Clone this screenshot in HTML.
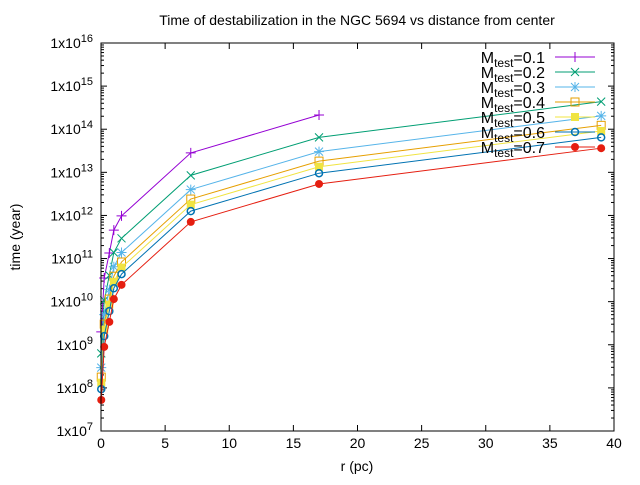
<!DOCTYPE html>
<html><head><meta charset="utf-8"><style>
body{margin:0;background:#fff;}
svg text{font-family:"Liberation Sans",sans-serif;fill:#000;}
</style></head><body>
<svg id="chart" width="640" height="480" xmlns="http://www.w3.org/2000/svg">
<text x="357" y="25" font-size="14" text-anchor="middle">Time of destabilization in the NGC 5694 vs distance from center</text>
<text transform="translate(20,237) rotate(-90)" font-size="14" text-anchor="middle">time (year)</text>
<text x="357" y="471" font-size="14" text-anchor="middle">r (pc)</text>
<g id="axes"></g><g id="series"></g><g id="legend"></g>
<rect x="101" y="43" width="513" height="388" fill="none" stroke="#000" stroke-width="1"/>
</svg>
<script>
const xTicks=[0,5,10,15,20,25,30,35,40];
const yTickExps=[7,8,9,10,11,12,13,14,15,16];
const seriesLabels=["0.1","0.2","0.3","0.4","0.5","0.6","0.7"];
const rPurple=[0.02,0.25,0.65,1.0,1.6,7,17];
const rOthers=[0.02,0.25,0.65,1.0,1.6,7,17,39];
const logT01=[9.3,10.55,11.13,11.66,11.99,13.45,14.33];
const logT02=[8.8,10.03,10.61,11.14,11.47,12.93,13.81,14.64];
const logT03=[8.47,9.7,10.28,10.81,11.14,12.6,13.48,14.31];
const logT04=[8.25,9.48,10.06,10.59,10.92,12.38,13.26,14.09];
const logT05=[8.12,9.35,9.93,10.46,10.79,12.25,13.13,13.96];
const logT06=[7.97,9.2,9.78,10.31,10.64,12.1,12.98,13.81];
const logT07=[7.72,8.95,9.53,10.06,10.39,11.85,12.73,13.56];
const NS="http://www.w3.org/2000/svg";
const X0=101,X1=614,Y0=431,Y1=43;
const xs=v=>X0+(v-0)/(40-0)*(X1-X0);
const ys=lv=>Y0-(lv-7)/(16-7)*(Y0-Y1);
function mk(tag,attrs,parent){const e=document.createElementNS(NS,tag);for(const k in attrs)e.setAttribute(k,attrs[k]);parent.appendChild(e);return e;}
const axes=document.getElementById('axes');
xTicks.forEach(t=>{
 const x=xs(t);
 const l=mk('line',{x1:x,x2:x,y1:Y0,y2:Y0-6,stroke:'#000'},axes);
 
 
 const l2=mk('line',{x1:x,x2:x,y1:Y1,y2:Y1+6,stroke:'#000'},axes);
 
 
 const tx=mk('text',{x:x,y:448,'font-size':14,'text-anchor':'middle'},axes);
 tx.textContent=t;
 
 
});
yTickExps.forEach(e=>{
 const y=ys(e);
 const l=mk('line',{x1:X0,x2:X0+6,y1:y,y2:y,stroke:'#000'},axes);
 
 
 const l2=mk('line',{x1:X1,x2:X1-6,y1:y,y2:y,stroke:'#000'},axes);
 
 
 if(e<16){for(let m=2;m<10;m++){const ym=ys(e+Math.log10(m));
  const a=mk('line',{x1:X0,x2:X0+3,y1:ym,y2:ym,stroke:'#000'},axes);
  
  
  const b=mk('line',{x1:X1,x2:X1-3,y1:ym,y2:ym,stroke:'#000'},axes);
  
  }}
 const tx=mk('text',{x:93,y:y+5,'font-size':14,'text-anchor':'end'},axes);
 tx.innerHTML='1x10<tspan dy="-6" font-size="11">'+e+'</tspan>';
 
 
});
const series=[
 {r:rPurple,v:logT01,c:'#9400d3',p:'plus'},
 {r:rOthers,v:logT02,c:'#009e73',p:'cross'},
 {r:rOthers,v:logT03,c:'#56b4e9',p:'star'},
 {r:rOthers,v:logT04,c:'#e69f00',p:'osq'},
 {r:rOthers,v:logT05,c:'#f0e442',p:'fsq'},
 {r:rOthers,v:logT06,c:'#0072b2',p:'ocirc'},
 {r:rOthers,v:logT07,c:'#e51e10',p:'fcirc'}];
function marker(p,x,y,c,g){
 let e;
 if(p==='plus'){e=mk('path',{d:`M${x-5},${y}h10M${x},${y-5}v10`,stroke:c,fill:'none'},g);}
 else if(p==='cross'){e=mk('path',{d:`M${x-4},${y-4}l8,8M${x-4},${y+4}l8,-8`,stroke:c,fill:'none'},g);}
 else if(p==='star'){e=mk('path',{d:`M${x-5},${y}h10M${x},${y-5}v10M${x-4},${y-4}l8,8M${x-4},${y+4}l8,-8`,stroke:c,fill:'none'},g);}
 else if(p==='osq'){e=mk('rect',{x:x-4,y:y-4,width:8,height:8,stroke:c,fill:'none'},g);}
 else if(p==='fsq'){e=mk('rect',{x:x-4,y:y-4,width:8,height:8,fill:c},g);}
 else if(p==='ocirc'){e=mk('circle',{cx:x,cy:y,r:3.5,stroke:c,fill:'none','stroke-width':1.5},g);}
 else {e=mk('circle',{cx:x,cy:y,r:4,fill:c},g);}
 
 
}
const sg=document.getElementById('series');
const lg=document.getElementById('legend');
series.forEach((s,i)=>{
 const g=mk('g',{},sg);
 
 
 const pts=s.r.map((r,j)=>[xs(r),ys(s.v[j])]);
 const pl=mk('polyline',{points:pts.map(p=>p.join(',')).join(' '),fill:'none',stroke:s.c,'stroke-width':1},g);
 
 
 pts.forEach(p=>marker(s.p,p[0],p[1],s.c,g));
 const ly=57+i*15;
 const le=mk('g',{},lg);
 
 
 const t=mk('text',{x:545,y:ly+6,'font-size':16,'text-anchor':'end'},le);
 t.innerHTML='M<tspan dy="4" font-size="12">test</tspan><tspan dy="-4">='+seriesLabels[i]+'</tspan>';
 mk('line',{x1:555,x2:595,y1:ly,y2:ly,stroke:s.c},le);
 marker(s.p,575,ly,s.c,le);
});
</script>
</body></html>
